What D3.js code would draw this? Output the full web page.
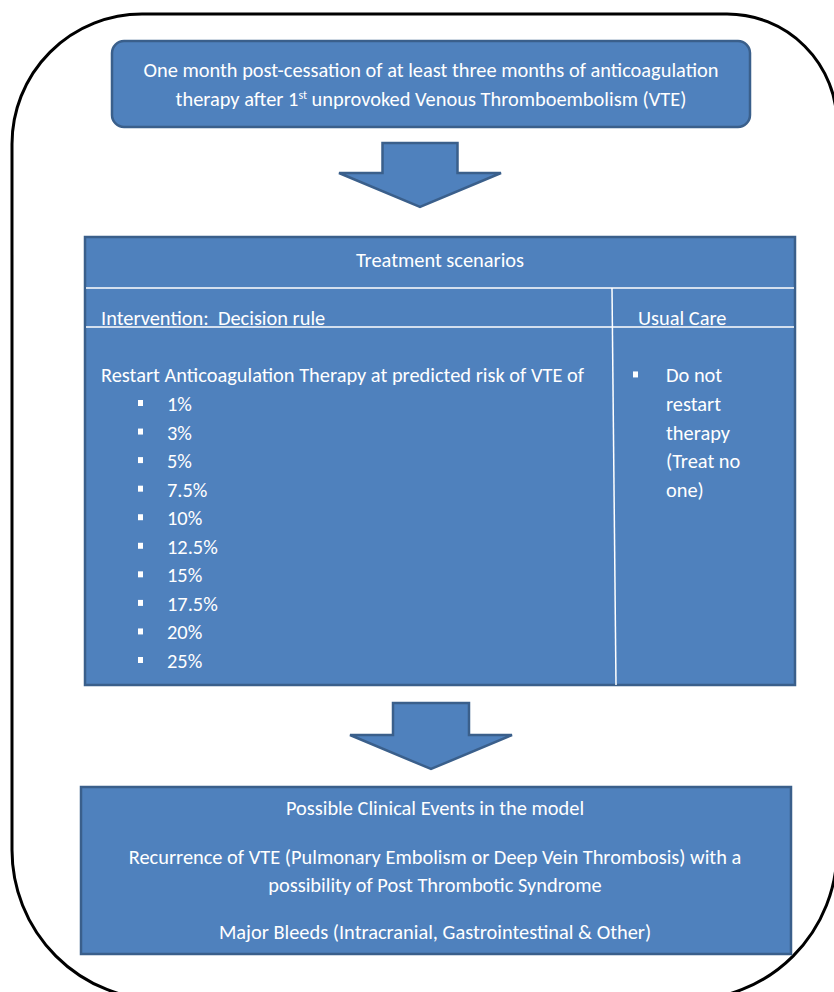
<!DOCTYPE html>
<html>
<head>
<meta charset="utf-8">
<script src="https://cdn.jsdelivr.net/npm/d3@7"></script>
<style>
  body { margin: 0; background: #fff; }
  svg text { font-family: Calibri, Carlito, "Liberation Sans Narrow", "Liberation Sans", sans-serif; fill: #fff; }
</style>
</head>
<body>
<div id="chart"></div>
<script>
// data
const startLines   = ["One month post-cessation of at least three months of anticoagulation",
                      "therapy after 1|st| unprovoked Venous Thromboembolism (VTE)"];
const tableTitle   = "Treatment scenarios";
const colHeaders   = ["Intervention:  Decision rule", "Usual Care"];
const ruleIntro    = "Restart Anticoagulation Therapy at predicted risk of VTE of";
const thresholds   = ["1%", "3%", "5%", "7.5%", "10%", "12.5%", "15%", "17.5%", "20%", "25%"];
const usualCare    = ["Do not", "restart", "therapy", "(Treat no", "one)"];
const eventTitle   = "Possible Clinical Events in the model";
const eventLines   = [["Recurrence of VTE (Pulmonary Embolism or Deep Vein Thrombosis) with a",
                       "possibility of Post Thrombotic Syndrome"],
                      ["Major Bleeds (Intracranial, Gastrointestinal & Other)"]];

const width = 834, height = 992;
const blue = "#4f81bd", edge = "#3a5f8b";
const fs = 20.4;
const base = 7;   // baseline offset below the visual centre of a line

const svg = d3.select("#chart").append("svg")
  .attr("width", width).attr("height", height);

// outer rounded frame (corners are not all the same size)
const fr = { l: 12, t: 14, r: 837, b: 1000 };
const rad = { tl: 130, tr: 110, br: 150, bl: 150 };
const frame = d3.path();
frame.moveTo(fr.l + rad.tl, fr.t);
frame.lineTo(fr.r - rad.tr, fr.t);
frame.arcTo(fr.r, fr.t, fr.r, fr.t + rad.tr, rad.tr);
frame.lineTo(fr.r, fr.b - rad.br);
frame.arcTo(fr.r, fr.b, fr.r - rad.br, fr.b, rad.br);
frame.lineTo(fr.l + rad.bl, fr.b);
frame.arcTo(fr.l, fr.b, fr.l, fr.b - rad.bl, rad.bl);
frame.lineTo(fr.l, fr.t + rad.tl);
frame.arcTo(fr.l, fr.t, fr.l + rad.tl, fr.t, rad.tl);
frame.closePath();
svg.append("path").attr("d", frame.toString())
  .attr("fill", "none").attr("stroke", "#000").attr("stroke-width", 3);

// 1. top box
svg.append("rect")
  .attr("x", 112).attr("y", 41).attr("width", 638).attr("height", 86).attr("rx", 12)
  .attr("fill", blue).attr("stroke", edge).attr("stroke-width", 2.5);

const topY = d3.scaleLinear().domain([0, 1]).range([70, 99]);
startLines.forEach((line, i) => {
  const t = svg.append("text")
    .attr("x", 431).attr("y", topY(i) + base)
    .attr("text-anchor", "middle")
    .style("font-size", fs + "px");
  line.split("|").forEach((part, j) => {
    const ts = t.append("tspan").text(part);
    if (j === 1) ts.attr("dy", -7).style("font-size", "12px");
    if (j === 2) ts.attr("dy", 7);
  });
});

// arrows
function arrow(cx, top, neck, tip, shaftW, headW) {
  const p = d3.path();
  p.moveTo(cx - shaftW / 2, top);
  p.lineTo(cx + shaftW / 2, top);
  p.lineTo(cx + shaftW / 2, neck);
  p.lineTo(cx + headW / 2, neck);
  p.lineTo(cx, tip);
  p.lineTo(cx - headW / 2, neck);
  p.lineTo(cx - shaftW / 2, neck);
  p.closePath();
  svg.append("path").attr("d", p.toString())
    .attr("fill", blue).attr("stroke", edge).attr("stroke-width", 2.5)
    .attr("stroke-linejoin", "miter");
}
arrow(420, 143, 173, 207, 75, 162);
arrow(431, 703, 735, 769, 76, 162);

// 2. treatment table
const tb = { x: 85, y: 237, w: 710, h: 448 };
svg.append("rect")
  .attr("x", tb.x).attr("y", tb.y).attr("width", tb.w).attr("height", tb.h)
  .attr("fill", blue).attr("stroke", edge).attr("stroke-width", 2.5);

svg.append("line").attr("x1", tb.x + 1).attr("x2", tb.x + tb.w - 1).attr("y1", 288).attr("y2", 288)
  .attr("stroke", "#fff").attr("stroke-width", 1.5);
svg.append("line").attr("x1", tb.x + 1).attr("x2", tb.x + tb.w - 1).attr("y1", 327).attr("y2", 327)
  .attr("stroke", "#fff").attr("stroke-width", 1.5);
svg.append("line").attr("x1", 612).attr("x2", 616).attr("y1", 288).attr("y2", tb.y + tb.h)
  .attr("stroke", "#fff").attr("stroke-width", 1.5);

svg.append("text").attr("x", 440).attr("y", 260 + base).attr("text-anchor", "middle")
  .style("font-size", fs + "px").text(tableTitle);
svg.append("text").attr("x", 101).attr("y", 318 + base).style("font-size", fs + "px")
  .attr("xml:space", "preserve").text(colHeaders[0]);
svg.append("text").attr("x", 638).attr("y", 318 + base).style("font-size", fs + "px").text(colHeaders[1]);

svg.append("text").attr("x", 101).attr("y", 375 + base).style("font-size", fs + "px").text(ruleIntro);

const rowY = d3.scaleLinear().domain([0, thresholds.length - 1]).range([404, 661]);

svg.selectAll("rect.bullet")
  .data(thresholds)
  .join("rect")
  .attr("class", "bullet")
  .attr("x", 138).attr("y", (d, i) => rowY(i) - 4)
  .attr("width", 5).attr("height", 6).attr("fill", "#fff");

svg.selectAll("text.thr")
  .data(thresholds)
  .join("text")
  .attr("class", "thr")
  .attr("x", 167).attr("y", (d, i) => rowY(i) + base)
  .style("font-size", fs + "px")
  .text(d => d);

svg.append("rect").attr("x", 633).attr("y", rowY(-1) - 4)
  .attr("width", 5).attr("height", 6).attr("fill", "#fff");

svg.selectAll("text.uc")
  .data(usualCare)
  .join("text")
  .attr("class", "uc")
  .attr("x", 666).attr("y", (d, i) => rowY(i - 1) + base)
  .style("font-size", fs + "px")
  .text(d => d);

// 3. clinical events box
svg.append("rect")
  .attr("x", 81).attr("y", 787).attr("width", 710).attr("height", 167)
  .attr("fill", blue).attr("stroke", edge).attr("stroke-width", 2.5);

svg.append("text").attr("x", 435).attr("y", 808 + base).attr("text-anchor", "middle")
  .style("font-size", fs + "px").text(eventTitle);

const evY = [[857, 885], [932]];
eventLines.forEach((grp, g) => grp.forEach((line, i) => {
  svg.append("text").attr("x", 435).attr("y", evY[g][i] + base).attr("text-anchor", "middle")
    .style("font-size", fs + "px").text(line);
}));
</script>
</body>
</html>
